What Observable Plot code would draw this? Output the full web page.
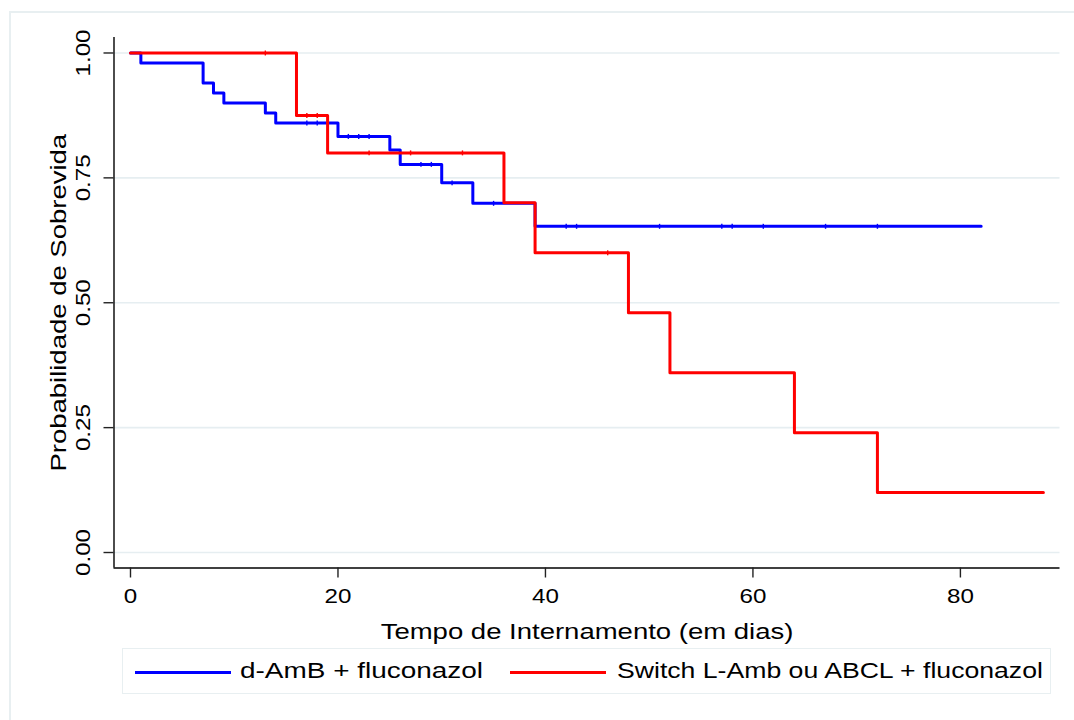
<!DOCTYPE html>
<html>
<head>
<meta charset="utf-8">
<script src="https://cdn.jsdelivr.net/npm/d3@7"></script>
<script src="https://cdn.jsdelivr.net/npm/@observablehq/plot@0.6"></script>
<style>
html,body{margin:0;padding:0;background:#fff;width:1074px;height:720px;overflow:hidden;font-family:"Liberation Sans",Arial,sans-serif;}
#border{position:absolute;left:9px;top:11px;width:1120px;height:800px;border:2px solid #e8eff1;box-sizing:border-box;}
#chart{position:absolute;left:0;top:0;}
#legend{position:absolute;left:122px;top:648px;width:929px;height:46px;border:1.5px solid #e8eff1;box-sizing:border-box;background:#fff;}
.swatch{position:absolute;height:3px;top:22px;width:96px;}
.lab{position:absolute;top:0;line-height:44px;font-size:22px;transform-origin:left center;white-space:nowrap;color:#000;}
</style>
</head>
<body>
<div id="border"></div>
<div id="chart"></div>
<div id="legend"></div>
<script>
// ---- data ----
const seriesNames = ["d-AmB + fluconazol", "Switch L-Amb ou ABCL + fluconazol"];
const seriesColors = ["#0000ff", "#ff0000"];

const blueTime = [0, 1, 7, 8, 9, 13, 14, 20, 25, 26, 30, 33, 39, 82];
const blueSurv = [1, 0.98, 0.94, 0.92, 0.90, 0.88, 0.86, 0.833, 0.806, 0.777, 0.74, 0.699, 0.653, 0.653];
const blueCensor = [17, 18, 21, 22, 23, 28, 29, 31, 35, 42, 43, 51, 57, 58, 61, 67, 72];

const redTime = [0, 16, 19, 36, 39, 48, 52, 64, 72, 88];
const redSurv = [1, 0.875, 0.80, 0.70, 0.60, 0.48, 0.36, 0.24, 0.12, 0.12];
const redCensor = [13, 17, 18, 23, 27, 32, 46];

const xTicks = [0, 20, 40, 60, 80];
const yTicks = [0, 0.25, 0.5, 0.75, 1];
const xTitle = "Tempo de Internamento (em dias)";
const yTitle = "Probabilidade de Sobrevida";

// ---- build ----
const rows = (t, s) => t.map((d, i) => ({t: d, s: s[i]}));
function survAt(times, surv, x) { let v = surv[0]; for (let i = 0; i < times.length; i++) if (times[i] <= x) v = surv[i]; return v; }
const censorRows = (c, t, s) => c.map(x => ({t: x, s: survAt(t, s, x)}));

const vtick = {draw(ctx, size) { const h = Math.sqrt(size); ctx.moveTo(0, -h / 2); ctx.lineTo(0, h / 2); }};

const xDomain = [-1.59, 89.6];
const yDomain = [-0.031, 1.031];

const chart = Plot.plot({
  width: 1074, height: 645,
  marginLeft: 113.5, marginRight: 14.5, marginTop: 37, marginBottom: 77.5,
  style: {fontFamily: '"Liberation Sans", Arial, sans-serif', fontSize: "22px", background: "transparent", color: "#000", overflow: "visible"},
  x: {domain: xDomain},
  y: {domain: yDomain},
  marks: [
    Plot.gridY(yTicks, {stroke: "#e6eef1", strokeOpacity: 1, strokeWidth: 1.6}),
    Plot.ruleX([xDomain[0]], {stroke: "#000", strokeWidth: 1.4}),
    Plot.ruleY([yDomain[0]], {stroke: "#000", strokeWidth: 1.4}),
    Plot.axisY(yTicks, {tickSize: 10, tickPadding: 14, tickRotate: -90, tickFormat: d3.format(".2f"), label: null, fontSize: 21, stroke: "#222", strokeWidth: 1.4}),
    Plot.axisX(xTicks, {tickSize: 10, tickPadding: 10, label: null, fontSize: 21, stroke: "#222", strokeWidth: 1.4}),
    Plot.line(rows(blueTime, blueSurv), {x: "t", y: "s", curve: "step-after", stroke: seriesColors[0], strokeWidth: 3}),
    Plot.dot(censorRows(blueCensor, blueTime, blueSurv), {x: "t", y: "s", symbol: vtick, r: 2.8, fill: "none", stroke: seriesColors[0], strokeWidth: 1.4}),
    Plot.line(rows(redTime, redSurv), {x: "t", y: "s", curve: "step-after", stroke: seriesColors[1], strokeWidth: 3}),
    Plot.dot(censorRows(redCensor, redTime, redSurv), {x: "t", y: "s", symbol: vtick, r: 2.8, fill: "none", stroke: seriesColors[1], strokeWidth: 1.4}),
    Plot.text([xTitle], {frameAnchor: "bottom", dy: 71, fontSize: 22}),
    Plot.text([yTitle], {frameAnchor: "left", textAnchor: "middle", dx: -55.5, rotate: -90, fontSize: 22})
  ]
});
document.getElementById("chart").appendChild(chart);

// widen glyphs slightly along the text direction (Stata-like wide Arial), keeping each label centred
chart.querySelectorAll("text").forEach(el => {
  const cs = getComputedStyle(el);
  const fs = parseFloat(el.getAttribute("font-size") || cs.fontSize);
  const f = fs >= 22 ? 1.25 : 1.15;
  const tr = el.getAttribute("transform") || "";
  if (/rotate/.test(tr)) {
    el.setAttribute("transform", tr + ` scale(${f},1)`);
    return;
  }
  const L = el.getComputedTextLength();
  if (!(L > 0)) return;
  const newL = L * f;
  const x0 = parseFloat(el.getAttribute("x") || 0);
  if (cs.textAnchor === "middle") {
    el.setAttribute("text-anchor", "start");
    el.setAttribute("x", x0 - newL / 2);
  }
  el.setAttribute("textLength", newL);
  el.setAttribute("lengthAdjust", "spacingAndGlyphs");
});

// legend
const legend = document.getElementById("legend");
const swLeft = [12, 387], labLeft = [117, 494], labScale = [1.27, 1.21];
seriesNames.forEach((name, i) => {
  const sw = document.createElement("div");
  sw.className = "swatch"; sw.style.left = swLeft[i] + "px"; sw.style.background = seriesColors[i];
  legend.appendChild(sw);
  const lb = document.createElement("span");
  lb.className = "lab"; lb.style.left = labLeft[i] + "px"; lb.style.transform = `scaleX(${labScale[i]})`; lb.textContent = name;
  legend.appendChild(lb);
});
</script>
</body>
</html>
